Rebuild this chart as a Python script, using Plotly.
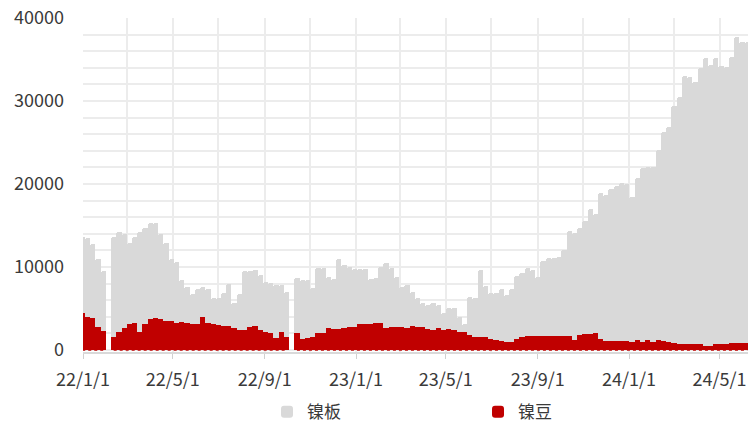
import pandas as pd
import plotly.graph_objects as go

# Weekly dates (Fridays); None = no data that week
start_date = "2021-12-31"
n_weeks = 128

nickel_plate = [
    13580, 13500, 12770, 10930, 9560, None, 13580, 14260, 13940, 12930,
    13660, 14180, 14660, 15260, 15260, 13980, 12850, 10970, 10570, 8440,
    7550, 6700, 7310, 7550, 7310, 6230, 6230, 6910, 7910, 5620,
    6750, 9560, 9560, 9640, 9040, 8240, 8110, 7830, 7830, 6950,
    None, 8640, 8400, 8400, 7500, 9840, 9840, 8800, 8560, 11000,
    10240, 10000, 9700, 9700, 9700, 8560, 8680, 9960, 10480, 9900,
    8800, 7550, 7830, 7030, 6230, 5700, 5420, 5700, 5420, 4500,
    5020, 5020, 4020, 3070, 6350, 6200, 9640, 7710, 6870, 6850,
    7310, 6630, 7310, 8920, 9320, 9840, 9640, 8760, 10760, 11050,
    11050, 11250, 12050, 14380, 14060, 14660, 15580, 16950, 16390, 18880,
    18680, 19360, 19760, 20160, 20000, 18470, 20690, 21900, 22090, 22090,
    24100, 26300, 26910, 29400, 30450, 33020, 32860, 32330, 33940, 35150,
    34340, 35150, 34220, 34140, 35270, 37750, 37070, 37110,
]

nickel_bean = [
    4420, 3940, 3820, 2810, 2330, None, 1530, 2210, 2610, 3130,
    3290, 2210, 3130, 3700, 3900, 3700, 3530, 3530, 3290, 3410,
    3290, 3170, 3130, 4020, 3290, 3130, 3010, 2930, 2930, 2610,
    2410, 2410, 2730, 2930, 2410, 2210, 2090, 1490, 2210, 1610,
    None, 2010, 1290, 1410, 1610, 2010, 2090, 2610, 2530, 2530,
    2610, 2810, 2810, 3090, 3090, 3130, 3210, 3290, 2690, 2730,
    2730, 2810, 2690, 2890, 2730, 2770, 2490, 2410, 2610, 2410,
    2490, 2410, 2210, 2210, 1810, 1610, 1610, 1530, 1350, 1210,
    1100, 1000, 1000, 1300, 1550, 1690, 1650, 1650, 1650, 1690,
    1690, 1650, 1650, 1650, 1250, 1850, 1930, 1930, 2050, 1290,
    1130, 1130, 1100, 1130, 1050, 1000, 1210, 1000, 1210, 1000,
    1210, 1130, 960, 800, 720, 720, 720, 720, 720, 520,
    520, 680, 680, 680, 800, 800, 800, 800,
]

series_names = ["镍板", "镍豆"]
tick_format = "%y/%-m/%-d"

dates = pd.date_range(start_date, periods=n_weeks, freq="7D")
week_ms = 7 * 24 * 3600 * 1000

GRAY = "#d9d9d9"
RED = "#c00000"
TXT = "#3a3a3a"
GRID = "#ececec"

fig = go.Figure()
fig.add_trace(go.Bar(
    x=dates, y=nickel_plate, name=series_names[0], width=week_ms,
    marker=dict(color=GRAY, line=dict(width=0), cornerradius=2),
))
fig.add_trace(go.Bar(
    x=dates, y=nickel_bean, name=series_names[1], width=week_ms,
    marker=dict(color=RED, line=dict(width=0), cornerradius=2),
))
# dotted baseline under the red series where data exists
base = [0 if v is not None else None for v in nickel_bean]
fig.add_trace(go.Scatter(
    x=dates, y=base, mode="lines", showlegend=False, hoverinfo="skip",
    line=dict(color=RED, width=1.5, dash="dot"),
))

fig.update_layout(
    width=753, height=423,
    margin=dict(l=83, r=5, t=18, b=71, autoexpand=False),
    paper_bgcolor="white", plot_bgcolor="white",
    barmode="overlay", bargap=0,
    font=dict(family="Noto Sans CJK SC, Noto Sans, sans-serif", size=18, color=TXT),
    legend=dict(
        orientation="h", x=0.594, xanchor="center", y=-0.18, yanchor="middle",
        font=dict(size=17, color=TXT), entrywidth=166, entrywidthmode="pixels",
        itemwidth=30, traceorder="normal",
    ),
    showlegend=True,
)
fig.update_xaxes(
    type="date", range=["2022-01-01", "2024-06-08"], automargin=False,
    tick0="2022-01-01", dtick="M4", tickformat=tick_format,
    showgrid=True, gridcolor=GRID, gridwidth=1.5,
    minor=dict(dtick="M2", showgrid=True, gridcolor=GRID, gridwidth=1.5),
    ticks="outside", ticklen=5, tickcolor="#d0d0d0",
    showline=True, linecolor="#d9d9d9", linewidth=1.5,
    ticklabelstandoff=6, tickfont=dict(size=18, color=TXT),
)
fig.update_yaxes(
    range=[-250, 40000], tick0=0, dtick=10000, tickformat="d", automargin=False,
    showgrid=True, gridcolor=GRID, gridwidth=1.5,
    minor=dict(dtick=2000, showgrid=True, gridcolor=GRID, gridwidth=1.5),
    zeroline=False, ticks="", ticklabelstandoff=18,
    tickfont=dict(size=18, color=TXT),
)

fig.write_html(
    "out.html",
    config={"displayModeBar": False},
    post_script="document.body.style.margin='0';",
)
